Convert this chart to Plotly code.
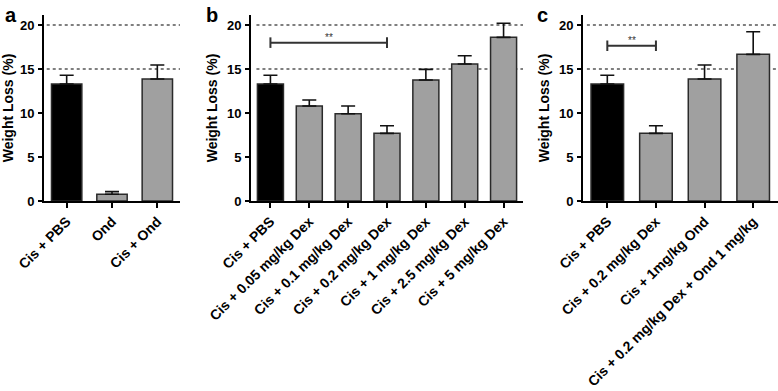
import plotly.graph_objects as go

# ---------------- data ----------------
cats_a = ["Cis + PBS", "Ond", "Cis + Ond"]
vals_a = [13.3, 0.76, 13.86]
err_a = [1.0, 0.3, 1.6]

cats_b = ["Cis + PBS", "Cis + 0.05 mg/kg Dex", "Cis + 0.1 mg/kg Dex",
          "Cis + 0.2 mg/kg Dex", "Cis + 1 mg/kg Dex", "Cis + 2.5 mg/kg Dex",
          "Cis + 5 mg/kg Dex"]
vals_b = [13.3, 10.8, 9.92, 7.69, 13.75, 15.57, 18.6]
err_b = [1.0, 0.68, 0.88, 0.87, 1.21, 0.93, 1.6]

cats_c = ["Cis + PBS", "Cis + 0.2 mg/kg Dex", "Cis + 1mg/kg Ond",
          "Cis + 0.2 mg/kg Dex + Ond 1 mg/kg"]
vals_c = [13.3, 7.69, 13.86, 16.67]
err_c = [1.0, 0.87, 1.6, 2.57]

y_ticks = [0, 5, 10, 15, 20]
ref_lines = [15, 20]
y_max = 21.14

# significance brackets: (first index, second index, height, label)
sig_b = (0, 3, 18.0, "**")
sig_c = (0, 1, 17.65, "**")

panel_letters = ["a", "b", "c"]
y_title = "Weight Loss (%)"

# ---------------- style ----------------
W, H = 778, 391
FONT = "Liberation Sans"
BLACK = "#000000"
GREY = "#a0a0a0"
EDGE = "#2a2a2a"

def px_x(p):
    return p / W

def px_y(p):
    return 1 - p / H

domains_x = [(px_x(44), px_x(180)), (px_x(251), px_x(523)), (px_x(583), px_x(777.5))]
domain_y = (px_y(201), px_y(15))

fig = go.Figure()

panels = [(cats_a, vals_a, err_a), (cats_b, vals_b, err_b), (cats_c, vals_c, err_c)]

for i, (cats, vals, errs) in enumerate(panels):
    n = i + 1
    xa = "x" if n == 1 else f"x{n}"
    ya = "y" if n == 1 else f"y{n}"
    colors = [BLACK] + [GREY] * (len(cats) - 1)
    fig.add_trace(go.Bar(
        x=cats, y=vals, xaxis=xa, yaxis=ya,
        marker=dict(color=colors, line=dict(color=EDGE, width=1.5)),
        width=0.67,
        error_y=dict(type="data", array=errs, arrayminus=[0] * len(errs),
                     symmetric=False, color="#111111", thickness=1.6, width=7),
        showlegend=False, hoverinfo="skip",
    ))
    xkey = "xaxis" if n == 1 else f"xaxis{n}"
    ykey = "yaxis" if n == 1 else f"yaxis{n}"
    fig.layout[xkey] = dict(
        domain=list(domains_x[i]), anchor=ya, range=[-0.5, len(cats) - 0.5],
        showline=True, linecolor=BLACK, linewidth=2, showgrid=False,
        ticks="outside", ticklen=5, tickwidth=2, tickcolor=BLACK,
        tickangle=-45, zeroline=False, fixedrange=True, automargin=False,
        tickfont=dict(family=FONT, size=14, color=BLACK, weight="bold"),
    )
    fig.layout[ykey] = dict(
        domain=list(domain_y), anchor=xa, range=[0, y_max], automargin=False,
        tickvals=y_ticks, showline=True, linecolor=BLACK, linewidth=2,
        showgrid=False, zeroline=False, ticks="outside", ticklen=4,
        tickwidth=2, tickcolor=BLACK, ticklabelstandoff=1, fixedrange=True,
        tickfont=dict(family=FONT, size=13, color=BLACK, weight="bold"),
        title=dict(text=y_title, standoff=6,
                   font=dict(family=FONT, size=14, color=BLACK, weight="bold")),
    )
    # reference dotted lines
    for r in ref_lines:
        fig.add_shape(type="line", xref=f"{xa} domain", yref=ya,
                      x0=0.02, x1=1, y0=r, y1=r, layer="below",
                      line=dict(color="#555555", width=1.5, dash="dot"))
    # panel letter
    fig.add_annotation(text=panel_letters[i], xref="paper", yref="paper",
                       x=[px_x(3), px_x(204), px_x(535)][i], y=px_y(2),
                       xanchor="left", yanchor="top", showarrow=False,
                       font=dict(family=FONT, size=20, color=BLACK, weight="bold"))

# significance brackets
for sig, cats, n in [(sig_b, cats_b, 2), (sig_c, cats_c, 3)]:
    i0, i1, h, lab = sig
    xa, ya = f"x{n}", f"y{n}"
    cap = 0.6
    fig.add_trace(go.Scatter(
        x=[cats[i0], cats[i1]], y=[h, h], xaxis=xa, yaxis=ya, mode="lines",
        line=dict(color="#333333", width=2), showlegend=False, hoverinfo="skip"))
    for c in (cats[i0], cats[i1]):
        fig.add_trace(go.Scatter(
            x=[c, c], y=[h - cap, h + cap], xaxis=xa, yaxis=ya, mode="lines",
            line=dict(color="#333333", width=2), showlegend=False, hoverinfo="skip"))
    fig.add_annotation(text=lab, xref=xa, yref=ya, x=(i0 + i1) / 2, y=h,
                       yanchor="bottom", showarrow=False, yshift=-2,
                       font=dict(family=FONT, size=10, color="#333333"))

fig.update_layout(
    width=W, height=H, margin=dict(l=0, r=0, t=0, b=0),
    paper_bgcolor="white", plot_bgcolor="white", bargap=0.33,
)

fig.write_html("out.html", config={"displayModeBar": False},
               post_script="document.body.style.margin='0px';document.body.style.overflow='hidden';")
